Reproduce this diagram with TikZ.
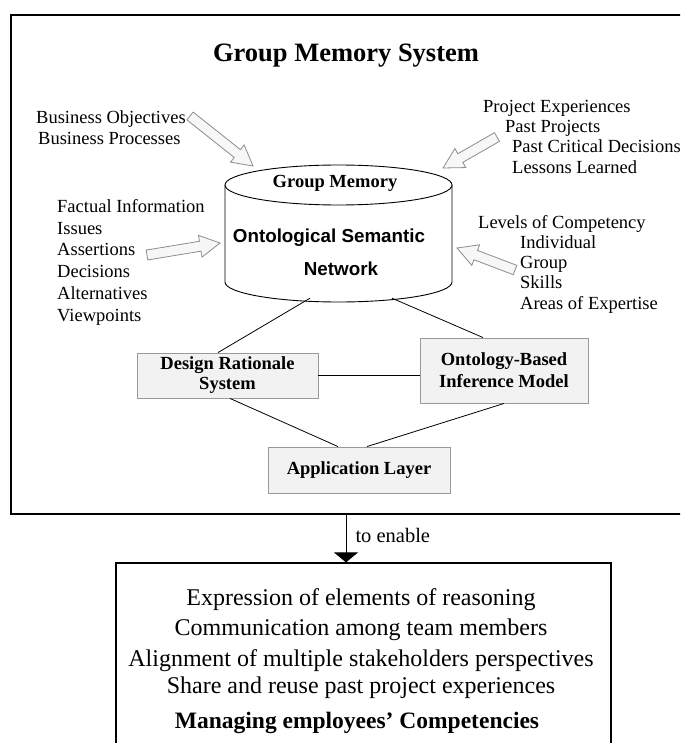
\documentclass[tikz,border=0pt]{standalone}
\usepackage{fontspec}
\setmainfont{Liberation Serif}
\setsansfont{Liberation Sans}
\usetikzlibrary{calc,arrows.meta}

% hollow block arrow from #1 to #2
\newcommand{\hollowarrow}[2]{%
  \path[fatarrow] let \p1=($(#2)-(#1)$), \n1={atan2(\y1,\x1)}, \n2={veclen(\x1,\y1)} in
    [shift={(#1)}, rotate=\n1]
    (0,-5) -- ({\n2-20},-5) -- ({\n2-20},-11) -- (\n2,0) -- ({\n2-20},11) -- ({\n2-20},5) -- (0,5) -- cycle;}

\begin{document}
\begin{tikzpicture}[x=1pt, y=1pt,
    box/.style={draw=black!40, fill=black!5, line width=0.9pt, inner sep=0pt, align=center, font=\fontsize{18.5}{20}\selectfont\bfseries},
    list/.style={anchor=north west, inner sep=0pt, align=left, font=\fontsize{18.5}{20.2}\selectfont},
    fatarrow/.style={draw=black!45, fill=black!3, line width=0.8pt},
    link/.style={line width=0.8pt}]
  \useasboundingbox (0,0) rectangle (680,-743);
  \clip (0,0) rectangle (680,-743);

  % outer frame and title
  \node (gms) [draw, line width=1.6pt, minimum width=679pt, minimum height=499pt] at (350.5,-264.5) {};
  \node (title) [anchor=base, font=\fontsize{26.5}{30}\selectfont\bfseries] at (346,-62) {Group Memory System};

  % group memory cylinder
  \draw[fill=white, line width=0.9pt] (225,-185) -- (225,-282) arc[start angle=180, end angle=360, x radius=113.5, y radius=20] -- (452,-185);
  \draw[fill=white, line width=0.9pt] (338.5,-185) ellipse[x radius=113.5, y radius=20];
  \node (gm) [minimum width=227pt, minimum height=137pt, inner sep=0pt] at (338.5,-233.5) {};
  \node (gmtop) [anchor=base, font=\fontsize{18.5}{20}\selectfont\bfseries] at (335,-188) {Group Memory};
  \node (osn1) [anchor=base, font=\fontsize{18.8}{20}\selectfont\sffamily\bfseries] at (329,-242) {Ontological Semantic};
  \node (osn2) [anchor=base, font=\fontsize{18.8}{20}\selectfont\sffamily\bfseries] at (341,-275) {Network};

  % inputs
  \node (biz) [list, font=\fontsize{18.5}{21}\selectfont] at (36,-110) {Business Objectives\\\hspace*{2pt}Business Processes};
  \node (facts) [list, font=\fontsize{18.5}{21.8}\selectfont] at (57,-199) {Factual Information\\Issues\\Assertions\\Decisions\\Alternatives\\Viewpoints};
  \node (proj) [list] at (483,-100) {Project Experiences\\\hspace*{22pt}Past Projects\\\hspace*{29pt}Past Critical Decisions\\\hspace*{29pt}Lessons Learned};
  \node (comp) [list] at (478,-215) {Levels of Competency\\\hspace*{42pt}Individual\\\hspace*{42pt}Group\\\hspace*{42pt}Skills\\\hspace*{42pt}Areas of Expertise};

  \coordinate (a1) at (190,-116); \coordinate (b1) at (253,-166);
  \coordinate (a2) at (147,-255); \coordinate (b2) at (220,-243);
  \coordinate (a3) at (497,-137); \coordinate (b3) at (443,-168);
  \coordinate (a4) at (515,-270); \coordinate (b4) at (457,-248);
  \hollowarrow{a1}{b1}
  \hollowarrow{a2}{b2}
  \hollowarrow{a3}{b3}
  \hollowarrow{a4}{b4}

  % components
  \node (dr) [box, minimum width=181pt, minimum height=45pt] at (227.5,-375.5) {Design Rationale\\System};
  \node (onto) [box, minimum width=168pt, minimum height=65pt, font=\fontsize{18.5}{22}\selectfont\bfseries] at (504,-370.5) {Ontology-Based\\Inference Model};
  \node (app) [box, minimum width=182pt, minimum height=46pt] at (359,-470) {Application Layer};

  \draw[link] ($(gm.south)+(-28.5,4)$) -- ($(dr.north)+(-9.5,0)$);
  \draw[link] ($(gm.south)+(53.5,4)$) -- ($(onto.north)+(-21,0)$);
  \draw[link] (dr.east) -- (dr.east -| onto.west);
  \draw[link] ($(dr.south)+(2.5,0)$) -- ($(app.north)+(-21,0)$);
  \draw[link] (onto.south) -- ($(app.north)+(8,0)$);

  % what it enables
  \node (goals) [draw, line width=1.2pt, minimum width=495pt, minimum height=217pt] at (363.5,-671.5) {};
  \coordinate (toen) at ($(goals.north)+(-17.5,0)$);
  \draw[-{Triangle[width=24pt,length=10pt]}, line width=1pt] (gms.south -| toen) -- (toen)
    node[midway, anchor=west, inner sep=0pt, xshift=9pt, yshift=3pt, font=\fontsize{20.5}{22}\selectfont] {to enable};

  \foreach \yy/\txt in {605/Expression of elements of reasoning, 635/Communication among team members,
      666/Alignment of multiple stakeholders perspectives, 693/Share and reuse past project experiences}
    \node (goal\yy) [anchor=base, font=\fontsize{24}{26}\selectfont] at (361,-\yy) {\txt};
  \node (goalbold) [anchor=base, font=\fontsize{23.5}{26}\selectfont\bfseries] at (357,-728) {Managing employees' Competencies};
\end{tikzpicture}
\end{document}
